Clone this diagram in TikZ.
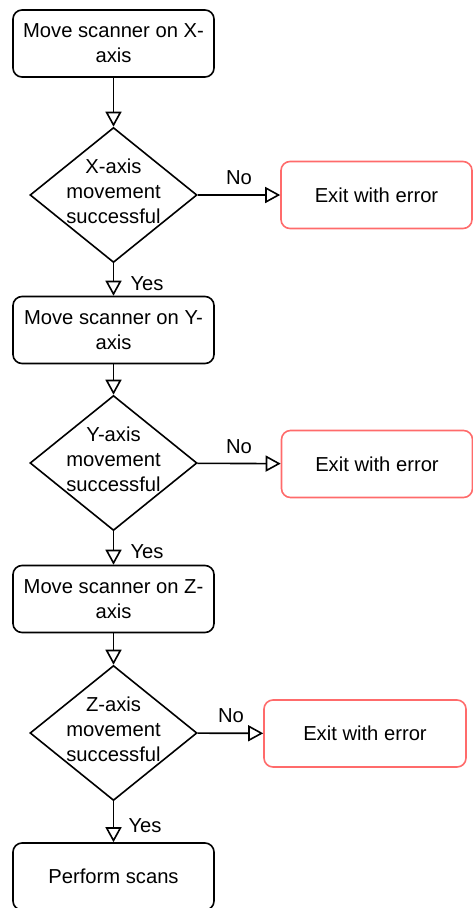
\documentclass[tikz,border=0pt]{standalone}
\usepackage{fontspec}
\setmainfont{Liberation Sans}
\usetikzlibrary{shapes.geometric,arrows.meta}
\definecolor{errred}{HTML}{FF6B6B}
\tikzset{
  every node/.style={font=\fontsize{20.2}{24.8}\selectfont},
  stepbox/.style={draw=black, line width=1.6pt, rounded corners=9pt,
    minimum width=201pt, minimum height=67pt, inner sep=0pt, align=center},
  errbox/.style={draw=errred, line width=1.6pt, rounded corners=9pt,
    minimum width=191pt, minimum height=67pt, inner sep=0pt, align=center},
  decision/.style={draw=black, line width=1.6pt, diamond, inner sep=0pt,
    minimum width=167pt, minimum height=135pt},
  dtext/.style={align=center, inner sep=0pt},
  flow/.style={line width=1.6pt, -{Triangle[open, length=15pt, width=16pt, line width=1.6pt]}},
  lbl/.style={inner sep=0pt}
}
\begin{document}
\begin{tikzpicture}[x=1pt,y=-1pt]
\useasboundingbox (0,0) rectangle (473,908);
\clip (0,0) rectangle (473,908);

% main column
\node[stepbox] (mx) at (113.5,43.5) {Move scanner on X-\\axis};
\node[decision] (dx) at (113.5,195) {};
\node[dtext] (tx) at (113.5,191) {X-axis\\movement\\successful};
\node[errbox] (ex) at (376.5,195) {Exit with error};

\node[stepbox] (my) at (113.5,330) {Move scanner on Y-\\axis};
\node[decision] (dy) at (113.5,463) {};
\node[dtext] (ty) at (113.5,459) {Y-axis\\movement\\successful};
\node[errbox] (ey) at (377,464) {Exit with error};

\node[stepbox] (mz) at (113.5,599) {Move scanner on Z-\\axis};
\node[decision] (dz) at (113.5,733) {};
\node[dtext] (tz) at (113.5,729) {Z-axis\\movement\\successful};
\node[errbox, minimum width=202pt] (ez) at (365,733.5) {Exit with error};

\node[stepbox] (ps) at (113.5,876.5) {Perform scans};

% connectors
\draw[flow] (mx) -- (dx);
\draw[flow] (dx) -- (ex);
\draw[flow] (dx) -- (my);
\draw[flow] (my) -- (dy);
\draw[flow] (dy) -- (ey);
\draw[flow] (dy) -- (mz);
\draw[flow] (mz) -- (dz);
\draw[flow] (dz) -- (ez);
\draw[flow] (dz) -- (ps);

% branch labels
\node[lbl] (nx) at (239,178) {No};
\node[lbl] (yx) at (147,284) {Yes};
\node[lbl] (ny) at (239,447) {No};
\node[lbl] (yy) at (147,552) {Yes};
\node[lbl] (nz) at (231,716) {No};
\node[lbl] (yz) at (145,826) {Yes};
\end{tikzpicture}
\end{document}
